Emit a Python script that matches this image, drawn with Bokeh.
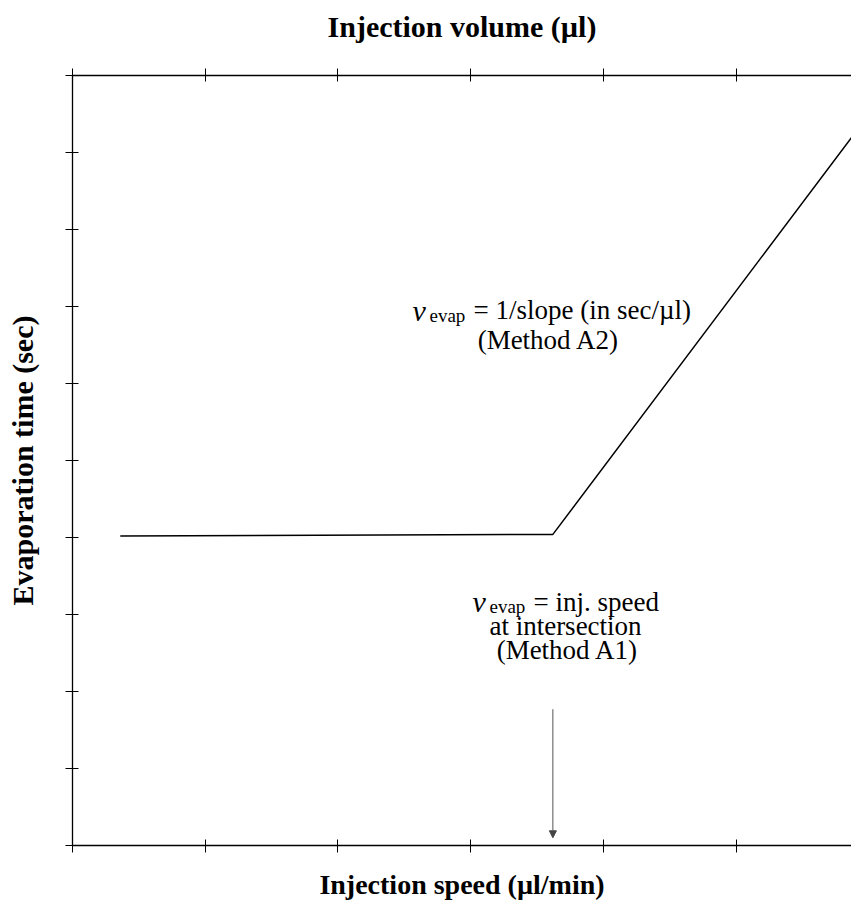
from bokeh.plotting import figure
from bokeh.models import LinearAxis, FixedTicker, Range1d, Label, Arrow, NormalHead
from bokeh.embed import file_html
from bokeh.resources import INLINE

# ---- data ----
injection_speed = [0.36, 3.62, 5.93]
evaporation_time = [4.02, 4.04, 9.33]
x_tick_values = [0, 1, 2, 3, 4, 5]
y_tick_values = [0, 1, 2, 3, 4, 5, 6, 7, 8, 9, 10]
arrow_y = [1.77, 0.10]

W, H = 851, 902
SERIF = "Liberation Serif"

p = figure(width=W, height=H, output_backend="svg", toolbar_location=None,
           x_range=Range1d(0, (W - 72) / 132.7), y_range=Range1d(0, 10),
           x_axis_location=None, y_axis_location=None,
           min_border_left=72, min_border_top=75, min_border_bottom=H - 849,
           min_border_right=0)
p.outline_line_color = None
p.grid.visible = False
p.background_fill_color = "white"
p.border_fill_color = "white"

bottom_axis = LinearAxis()
top_axis = LinearAxis()
left_axis = LinearAxis()
p.add_layout(bottom_axis, "below")
p.add_layout(top_axis, "above")
p.add_layout(left_axis, "left")


def style_axis(ax, ticks, label, standoff, size):
    ax.ticker = FixedTicker(ticks=ticks)
    ax.minor_tick_line_color = None
    ax.major_tick_in = 6
    ax.major_tick_out = 7
    ax.major_tick_line_color = "black"
    ax.major_tick_line_width = 1
    ax.axis_line_color = "black"
    ax.axis_line_width = 1.3
    ax.major_label_overrides = {t: "" for t in ticks}
    ax.major_label_text_color = None
    ax.major_label_text_font_size = "1px"
    ax.major_label_standoff = 0
    ax.axis_label = label
    ax.axis_label_text_font = SERIF
    ax.axis_label_text_font_style = "bold"
    ax.axis_label_text_font_size = f"{size}px"
    ax.axis_label_text_color = "black"
    ax.axis_label_standoff = standoff


style_axis(bottom_axis, x_tick_values, "Injection speed (\u00b5l/min)", 16, 28)
style_axis(top_axis, x_tick_values, "Injection volume (\u00b5l)", 26, 30)
style_axis(left_axis, y_tick_values, "Evaporation time (sec)", 27, 30)

p.line(injection_speed, evaporation_time, line_color="black", line_width=1.5)

p.add_layout(Arrow(end=NormalHead(size=7, fill_color="#444444", line_color="#444444"),
                   x_start=injection_speed[1], y_start=arrow_y[0],
                   x_end=injection_speed[1], y_end=arrow_y[1],
                   line_color="#555555", line_width=1))


def dx(px):
    return (px - 72) / 132.7


def dy(py):
    return (849 - py) / 77.4


def add_text(text, px, py, size=27, style="normal", align="left"):
    p.add_layout(Label(x=dx(px), y=dy(py), text=text, text_font=SERIF,
                       text_font_size=f"{size}px", text_font_style=style,
                       text_align=align, text_baseline="alphabetic",
                       text_color="black"))


def v_evap_line(rest, px, py):
    add_text("v", px, py, size=30, style="italic")
    add_text("evap", px + 17, py + 5, size=19)
    add_text(rest, px + 61, py)


v_evap_line("= 1/slope (in sec/\u00b5l)", 412, 311)
add_text("(Method A2)", 548, 341, align="center")

v_evap_line("= inj. speed", 472, 604)
add_text("at intersection", 565, 628, align="center")
add_text("(Method A1)", 567, 652, align="center")

open("out.html", "w").write(file_html(p, INLINE))
